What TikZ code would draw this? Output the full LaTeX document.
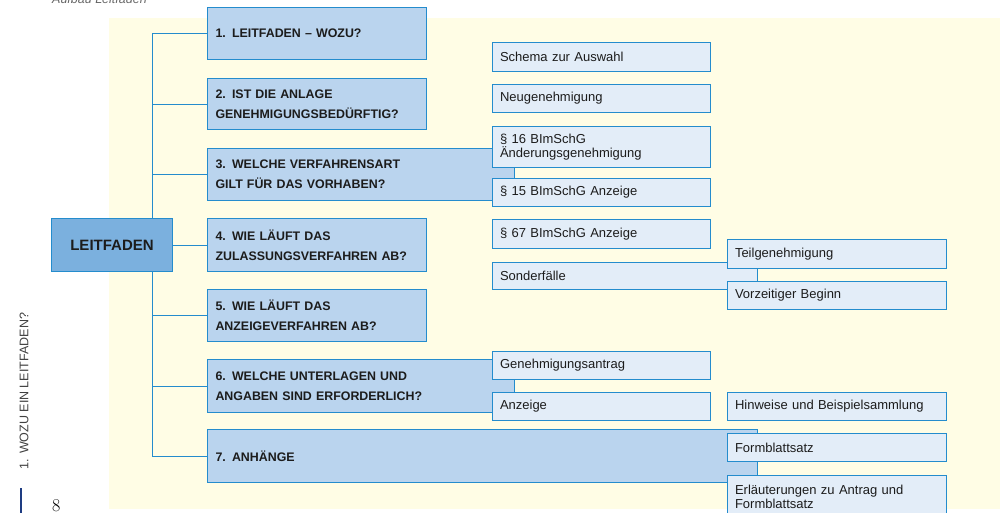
\documentclass[tikz,border=0pt]{standalone}
\usepackage{fontspec}
\setsansfont{Liberation Sans}
\usepackage{tikz}
\usetikzlibrary{positioning}
\definecolor{paleyellow}{RGB}{255,253,229}
\definecolor{framecol}{RGB}{36,140,205}
\definecolor{mainfill}{RGB}{186,212,238}
\definecolor{rootfill}{RGB}{123,176,222}
\definecolor{subfill}{RGB}{227,237,248}
\definecolor{textcol}{RGB}{28,28,28}
\definecolor{rulecol}{RGB}{30,60,130}
\tikzstyle{branch_edge}=[-, draw=framecol, line width=1pt]
\tikzstyle{main_box}=[draw=framecol, fill=mainfill, line width=1pt, anchor=north west, inner xsep=8pt, inner ysep=0pt, align=left, text=textcol, font=\sffamily\bfseries\fontsize{12.4}{20}\selectfont]
\tikzstyle{sub_box}=[draw=framecol, fill=subfill, line width=1pt, anchor=north west, inner xsep=7.5pt, inner ysep=0pt, align=left, text=textcol, font=\sffamily\fontsize{13}{14}\selectfont]
\tikzstyle{root_box}=[draw=framecol, fill=rootfill, line width=1pt, anchor=north west, inner sep=0pt, text=textcol, font=\sffamily\bfseries\fontsize{15}{18}\selectfont]

\begin{document}
\begin{tikzpicture}[x=1pt, y=-1pt]
        \useasboundingbox (0,0) rectangle (1002,512);
        \fill[paleyellow] (109,18) rectangle (1000,509);
        % page furniture
        \node [anchor=base west, inner sep=0pt, text=black!60, font=\sffamily\itshape\fontsize{12.5}{14}\selectfont] (title) at (52,3) {Aufbau Leitfaden};
        \node [rotate=90, inner sep=0pt, text=black!75, font=\sffamily\fontsize{12.5}{14}\selectfont] (side) at (24,391) {1. WOZU EIN LEITFADEN?};
        \draw [draw=rulecol, line width=1.5pt] (21,488) -- (21,513);
        \node [anchor=base west, inner sep=0pt, font=\fontsize{18}{18}\selectfont] (page) at (52,511) {8};
        % chapters
        \node [main_box, text width=203pt, minimum height=52pt] (s1) at (207,7) {1. LEITFADEN -- WOZU?};
        \node [main_box, text width=203pt, minimum height=51pt] (s2) at (207,78) {2. IST DIE ANLAGE\\GENEHMIGUNGSBEDÜRFTIG?};
        \node [main_box, text width=291pt, minimum height=52pt] (s3) at (207,148) {3. WELCHE VERFAHRENSART\\GILT FÜR DAS VORHABEN?};
        \node [main_box, text width=203pt, minimum height=53pt] (s4) at (207,218) {4. WIE LÄUFT DAS\\ZULASSUNGSVERFAHREN AB?};
        \node [main_box, text width=203pt, minimum height=52pt] (s5) at (207,289) {5. WIE LÄUFT DAS\\ANZEIGEVERFAHREN AB?};
        \node [main_box, text width=291pt, minimum height=53pt] (s6) at (207,359) {6. WELCHE UNTERLAGEN UND\\ANGABEN SIND ERFORDERLICH?};
        \node [main_box, text width=534pt, minimum height=53pt] (s7) at (207,429) {7. ANHÄNGE};
        \coordinate (t) at (152,0);
        \draw[style={branch_edge}]{} (s1.west -| t) to (s7.west -| t);
        \foreach \n in {1,...,7}
            \draw[style={branch_edge}]{} (s\n.west) to (s\n.west -| t);
        \node [root_box, minimum width=121pt, minimum height=53pt] (root) at (51,218) {LEITFADEN};
        \draw[style={branch_edge}]{} (root.east) to (s4.west);
        % sections
        \node [sub_box, text width=203pt, minimum height=29pt] (a1) at (492,42) {Schema zur Auswahl};
        \node [sub_box, text width=203pt, minimum height=28pt] (a2) at (492,84) {Neugenehmigung};
        \node [sub_box, text width=203pt, minimum height=41pt] (a3) at (492,126) {§ 16 BImSchG\\Änderungsgenehmigung};
        \node [sub_box, text width=203pt, minimum height=28pt] (a4) at (492,178) {§ 15 BImSchG Anzeige};
        \node [sub_box, text width=203pt, minimum height=29pt] (a5) at (492,219) {§ 67 BImSchG Anzeige};
        \node [sub_box, text width=250pt, minimum height=27pt] (a6) at (492,262) {Sonderfälle};
        \node [sub_box, text width=203pt, minimum height=28pt] (a7) at (492,351) {Genehmigungsantrag};
        \node [sub_box, text width=203pt, minimum height=28pt] (a8) at (492,392) {Anzeige};
        % subsections
        \node [sub_box, text width=204pt, minimum height=29pt] (b1) at (727,239) {Teilgenehmigung};
        \node [sub_box, text width=204pt, minimum height=28pt] (b2) at (727,281) {Vorzeitiger Beginn};
        \node [sub_box, text width=204pt, minimum height=28pt] (b3) at (727,392) {Hinweise und Beispielsammlung};
        \node [sub_box, text width=204pt, minimum height=28pt] (b4) at (727,433) {Formblattsatz};
        \node [sub_box, text width=204pt, minimum height=42pt] (b5) at (727,475) {Erläuterungen zu Antrag und\\Formblattsatz};
    \end{tikzpicture}
\end{document}
